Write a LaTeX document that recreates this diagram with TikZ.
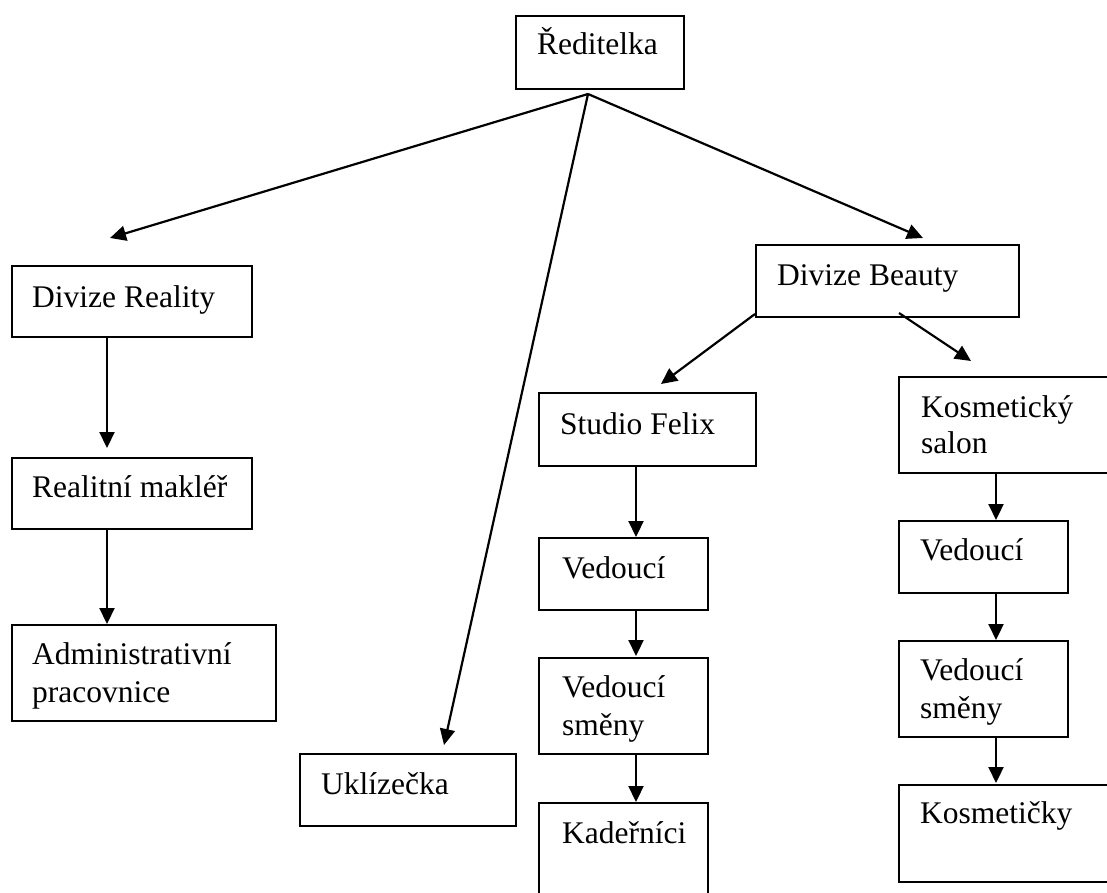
\documentclass[tikz,border=0pt]{standalone}
\usepackage{fontspec}
\setmainfont{Liberation Serif}
\usetikzlibrary{arrows.meta}
\begin{document}
\begin{tikzpicture}[x=1pt,y=-1pt,
  box/.style={draw,line width=2.2pt,rectangle,inner sep=0pt},
  lbl/.style={anchor=base west,inner sep=0pt,font=\fontsize{31.5}{38}\selectfont},
  arr/.style={line width=2.2pt,-{Triangle[length=16pt,width=15pt]}}]
\useasboundingbox (0,0) rectangle (1107,893);
% boxes
\node[box,minimum width=168pt,minimum height=73pt] (ceo) at (600,52.5) {};
\node[box,minimum width=240pt,minimum height=71pt] (dr) at (132,301.5) {};
\node[box,minimum width=240pt,minimum height=71pt] (rm) at (132,493.5) {};
\node[box,minimum width=264pt,minimum height=96pt] (adm) at (144,673) {};
\node[box,minimum width=216pt,minimum height=72pt] (ukl) at (408,790) {};
\node[box,minimum width=263pt,minimum height=72pt] (db) at (887.5,281) {};
\node[box,minimum width=217pt,minimum height=73pt] (sf) at (647.5,429.5) {};
\node[box,minimum width=169pt,minimum height=72pt] (va) at (623.5,574) {};
\node[box,minimum width=169pt,minimum height=96pt] (vsa) at (623.5,706) {};
\node[box,minimum width=169pt,minimum height=110pt] (kad) at (623.5,858) {};
\node[box,minimum width=230pt,minimum height=96pt] (ks) at (1014,425) {};
\node[box,minimum width=169pt,minimum height=72pt] (vb) at (983.5,557) {};
\node[box,minimum width=169pt,minimum height=96pt] (vsb) at (983.5,689) {};
\node[box,minimum width=230pt,minimum height=97pt] (kos) at (1014,833.5) {};
% texts
\node[lbl] (tceo) at (537,55) {Ředitelka};
\node[lbl] (tdr) at (32,307) {Divize Reality};
\node[lbl] (trm) at (32,497) {Realitní makléř};
\node[lbl] (tadm1) at (32,664) {Administrativní};
\node[lbl] (tadm2) at (32,702) {pracovnice};
\node[lbl] (tukl) at (321,794) {Uklízečka};
\node[lbl] (tdb) at (777,285) {Divize Beauty};
\node[lbl] (tsf) at (560,434) {Studio Felix};
\node[lbl] (tva) at (562,578) {Vedoucí};
\node[lbl] (tvsa1) at (562,697) {Vedoucí};
\node[lbl] (tvsa2) at (562,735) {směny};
\node[lbl] (tkad) at (562,843) {Kadeřníci};
\node[lbl] (tks1) at (921,417) {Kosmetický};
\node[lbl] (tks2) at (921,453) {salon};
\node[lbl] (tvb) at (920,560) {Vedoucí};
\node[lbl] (tvsb1) at (920,680) {Vedoucí};
\node[lbl] (tvsb2) at (920,718) {směny};
\node[lbl] (tkos) at (920,823) {Kosmetičky};
% connector points
\coordinate (apex) at (588,94);
\coordinate (tipdr) at (110,238);
\coordinate (tipdb) at (923,238);
\coordinate (tipukl) at (444,745);
\coordinate (dbl) at (755,314);
\coordinate (dbr) at (899,313);
\coordinate (tipsf) at (661,384);
\coordinate (tipks) at (971,361);
\coordinate (tiprm) at (107,448);
\coordinate (tipadm) at (107,624);
\coordinate (tipva) at (636,537);
\coordinate (tipvsa) at (636,656);
\coordinate (tipkad) at (636,802);
\coordinate (tipvb) at (996,520);
\coordinate (tipvsb) at (996,640);
\coordinate (tipkos) at (996,783);
% connectors
\draw[arr] (apex) -- (tipdr);
\draw[arr] (apex) -- (tipdb);
\draw[arr] (apex) -- (tipukl);
\draw[arr] (dbl) -- (tipsf);
\draw[arr] (dbr) -- (tipks);
\draw[arr] (dr.south -| tiprm) -- (tiprm);
\draw[arr] (rm.south -| tipadm) -- (tipadm);
\draw[arr] (sf.south -| tipva) -- (tipva);
\draw[arr] (va.south -| tipvsa) -- (tipvsa);
\draw[arr] (vsa.south -| tipkad) -- (tipkad);
\draw[arr] (ks.south -| tipvb) -- (tipvb);
\draw[arr] (vb.south -| tipvsb) -- (tipvsb);
\draw[arr] (vsb.south -| tipkos) -- (tipkos);
\end{tikzpicture}
\end{document}
